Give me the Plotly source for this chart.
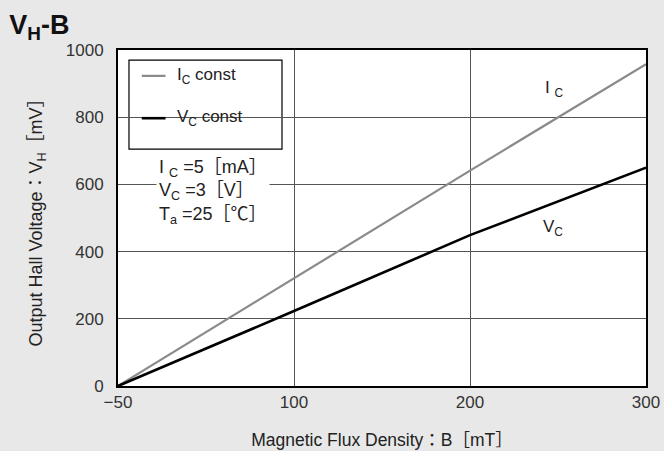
import plotly.graph_objects as go

# ---- data ----
b_field = [0, 100, 200, 300]              # axis positions (labels below)
x_tick_vals = [0, 100, 200, 300]
x_tick_text = ["−50", "100", "200", "300"]
y_tick_vals = [0, 200, 400, 600, 800, 1000]
vh_ic_const = [0, 320, 641, 958]          # mV
vh_vc_const = [0, 223, 449, 650]          # mV

FONT = "Liberation Sans, Arial, Noto Sans CJK JP, sans-serif"
TXT = "#222222"

fig = go.Figure()
fig.add_trace(go.Scatter(x=b_field, y=vh_ic_const, mode="lines", name="I<sub>C</sub> const",
                         line=dict(color="#8a8a8a", width=2.2), showlegend=False))
fig.add_trace(go.Scatter(x=b_field, y=vh_vc_const, mode="lines", name="V<sub>C</sub> const",
                         line=dict(color="#000000", width=2.6), showlegend=False))

# legend box (drawn manually, above grid, below traces)
fig.add_shape(type="rect", xref="paper", yref="paper", x0=0.0208, x1=0.3106, y0=0.705, y1=0.970,
              line=dict(color="#000000", width=1.2), fillcolor="white", layer="between")
fig.add_shape(type="line", xref="paper", yref="paper", x0=0.045, x1=0.090, y0=0.923, y1=0.923,
              line=dict(color="#8a8a8a", width=2.2))
fig.add_shape(type="line", xref="paper", yref="paper", x0=0.045, x1=0.090, y0=0.797, y1=0.797,
              line=dict(color="#000000", width=2.6))
fig.add_annotation(xref="paper", yref="paper", x=0.108, y=0.923, xanchor="left", yanchor="middle",
                   text="I<sub>C</sub> const", showarrow=False, font=dict(size=17, color=TXT, family=FONT))
fig.add_annotation(xref="paper", yref="paper", x=0.108, y=0.797, xanchor="left", yanchor="middle",
                   text="V<sub>C</sub> const", showarrow=False, font=dict(size=17, color=TXT, family=FONT))

# condition text
fig.add_annotation(xref="paper", yref="paper", x=0.072, y=0.578, xanchor="left", yanchor="middle",
                   text="I <sub>C</sub> =5［mA］<br>V<sub>C</sub> =3［V］<br>T<sub>a</sub> =25［℃］",
                   align="left", showarrow=False, bgcolor="white", borderpad=2,
                   font=dict(size=18, color=TXT, family=FONT))

# curve labels
fig.add_annotation(x=248, y=885, text="I <sub>C</sub>", showarrow=False,
                   font=dict(size=17, color=TXT, family=FONT))
fig.add_annotation(x=247, y=470, text="V<sub>C</sub>", showarrow=False,
                   font=dict(size=17, color=TXT, family=FONT))

fig.update_layout(
    width=664, height=451,
    margin=dict(l=118, r=18, t=50, b=65),
    paper_bgcolor="#e8e8e8", plot_bgcolor="white",
    font=dict(family=FONT, size=17, color=TXT),
    title=dict(text="<b>V<sub>H</sub>-B</b>", xref="container", yref="container",
               x=0.014, xanchor="left", y=0.945, yanchor="middle",
               font=dict(size=27, color="#111111", family=FONT)),
    showlegend=False,
)
fig.update_xaxes(range=[0, 300], tickvals=x_tick_vals, ticktext=x_tick_text,
                 automargin=False,
                 showgrid=True, gridcolor="#555555", gridwidth=1,
                 showline=True, linecolor="black", linewidth=2, mirror=True,
                 ticks="", zeroline=False, tickfont=dict(size=17, color="#333333"),
                 title=dict(text="Magnetic Flux Density：B［mT］", standoff=22,
                            font=dict(size=17.5, color=TXT)))
fig.update_yaxes(range=[0, 1000], tickvals=y_tick_vals,
                 automargin=False,
                 showgrid=True, gridcolor="#555555", gridwidth=1,
                 showline=True, linecolor="black", linewidth=2, mirror=True,
                 ticks="", zeroline=False, tickfont=dict(size=17, color="#333333"),
                 ticklabelstandoff=9,
                 title=dict(text="Output Hall Voltage：V<sub>H</sub>［mV］", standoff=18,
                            font=dict(size=18, color=TXT)))

fig.write_html("out.html", config={"displayModeBar": False},
               post_script="document.body.style.margin='0';document.body.style.padding='0';")
